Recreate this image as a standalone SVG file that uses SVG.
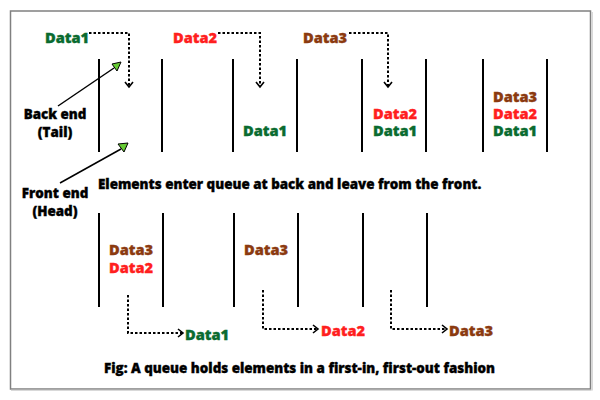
<svg xmlns="http://www.w3.org/2000/svg" width="600" height="400" viewBox="0 0 600 400">
<style>
text{font-family:"Open Sans","Noto Sans","DejaVu Sans",sans-serif;font-weight:800;stroke-width:0.35px}
.d{font-size:14.6px}
.g{fill:#0a6b30;stroke:#0a6b30}
.r{fill:#ff1f1f;stroke:#ff1f1f}
.b{fill:#8b3a10;stroke:#8b3a10}
.k{font-size:13.4px;fill:#000;stroke:#000}
.wall{stroke:#000;stroke-width:2}
.dot{fill:none;stroke:#000;stroke-width:2;stroke-dasharray:2.5 2}
.ptr{stroke:#000;stroke-width:1.5}
.tri{fill:#66cc33;stroke:#000;stroke-width:1}
</style>
<defs>
<marker id="chev" markerUnits="userSpaceOnUse" markerWidth="12" markerHeight="12" refX="6" refY="5" orient="auto" viewBox="0 0 12 10">
<path d="M1,1 L6,5 L1,9" fill="none" stroke="#000" stroke-width="1.6"/>
</marker>
</defs>
<rect id="frame" x="10.5" y="11" width="580" height="378" fill="#fff" stroke="#808080" stroke-width="1.5"/>
<line x1="11" y1="390.2" x2="591.5" y2="390.2" stroke="#c8c8c8" stroke-width="1"/>
<line x1="592.2" y1="12" x2="592.2" y2="390.5" stroke="#c8c8c8" stroke-width="1"/>

<g id="queue-empty">
<line class="wall" x1="99" y1="59" x2="99" y2="152"/>
<line class="wall" x1="162" y1="59" x2="162" y2="152"/>
</g>
<g id="queue-1">
<line class="wall" x1="233" y1="59" x2="233" y2="152"/>
<line class="wall" x1="297" y1="59" x2="297" y2="152"/>
<text class="d g" x="243" y="136">Data1</text>
</g>
<g id="queue-2">
<line class="wall" x1="362" y1="59" x2="362" y2="152"/>
<line class="wall" x1="426" y1="59" x2="426" y2="152"/>
<text class="d r" x="373" y="119">Data2</text>
<text class="d g" x="373" y="136">Data1</text>
</g>
<g id="queue-3">
<line class="wall" x1="483" y1="59" x2="483" y2="152"/>
<line class="wall" x1="547" y1="59" x2="547" y2="152"/>
<text class="d b" x="493" y="102">Data3</text>
<text class="d r" x="493" y="119">Data2</text>
<text class="d g" x="493" y="136">Data1</text>
</g>
<g id="in-data1"><text class="d g" x="45" y="43">Data1</text></g>
<g id="in-data2"><text class="d r" x="173" y="43">Data2</text></g>
<g id="in-data3"><text class="d b" x="303" y="43">Data3</text></g>

<g id="back-end">
<text class="k" x="55" y="119" text-anchor="middle">Back end</text>
<text class="k" x="55" y="137" text-anchor="middle">(Tail)</text>
</g>
<g id="front-end">
<text class="k" x="55" y="198" text-anchor="middle">Front end</text>
<text class="k" x="55" y="216" text-anchor="middle">(Head)</text>
</g>
<g id="statement"><text class="k" x="98" y="189">Elements enter queue at back and leave from the front.</text></g>

<g id="dequeue-1">
<line class="wall" x1="99" y1="213" x2="99" y2="307"/>
<line class="wall" x1="163" y1="213" x2="163" y2="307"/>
<text class="d b" x="109" y="255">Data3</text>
<text class="d r" x="109" y="273">Data2</text>
</g>
<g id="dequeue-2">
<line class="wall" x1="234" y1="213" x2="234" y2="307"/>
<line class="wall" x1="298" y1="213" x2="298" y2="307"/>
<text class="d b" x="244" y="255">Data3</text>
</g>
<g id="dequeue-3">
<line class="wall" x1="363" y1="213" x2="363" y2="307"/>
<line class="wall" x1="427" y1="213" x2="427" y2="307"/>
</g>
<g id="out-data1"><text class="d g" x="185" y="340">Data1</text></g>
<g id="out-data2"><text class="d r" x="321" y="336">Data2</text></g>
<g id="out-data3"><text class="d b" x="449" y="336">Data3</text></g>

<g id="caption"><text class="k" x="104" y="373">Fig: A queue holds elements in a first-in, first-out fashion</text></g>

<g id="connectors">
<path class="dot" d="M89,33 H129 V87" marker-end="url(#chev)"/>
<path class="dot" d="M218,33 H260 V87" marker-end="url(#chev)"/>
<path class="dot" d="M349,33 H388 V87" marker-end="url(#chev)"/>
<path class="dot" d="M128,295 V333 H183" marker-end="url(#chev)"/>
<path class="dot" d="M263,290 V329 H318" marker-end="url(#chev)"/>
<path class="dot" d="M391,290 V329 H447" marker-end="url(#chev)"/>
<line class="ptr" x1="58" y1="106" x2="114" y2="68"/>
<polygon class="tri" points="112,64 121,62 117,71"/>
<line class="ptr" x1="60" y1="183" x2="121" y2="149"/>
<polygon class="tri" points="118,144 128,143 124,152"/>
</g>
</svg>
